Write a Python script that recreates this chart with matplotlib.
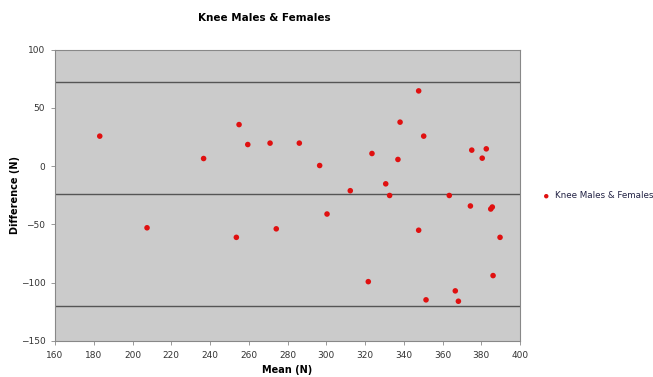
import matplotlib.pyplot as plt

mean_n = [183.1, 207.5, 236.7, 253.6, 255.0, 259.5, 271.0, 274.2, 286.1,
          296.6, 300.4, 312.4, 321.7, 323.6, 330.7, 332.7, 337.0, 338.1,
          347.7, 347.7, 350.3, 351.5, 363.5, 366.6, 368.2, 374.4, 375.1,
          380.5, 382.6, 384.9, 385.7, 386.1, 389.7]
diff_n = [25.7, -52.9, 6.5, -61.1, 35.6, 18.5, 19.7, -53.8, 19.7,
          0.5, -41.1, -21.1, -99.1, 10.8, -15.2, -25.2, 5.7, 37.7,
          64.5, -55.0, 25.7, -114.7, -25.2, -107.0, -115.9, -34.2, 13.7,
          6.8, 14.8, -36.8, -35.1, -93.9, -61.1]
ref_lines = [72.3, -23.6, -119.6]

fig = plt.figure(figsize=(6.53, 3.77), dpi=100)
ax = fig.add_axes([55/653, 1-341/377, 465/653, 291.5/377])
ax.set_facecolor("#cbcbcb")

for y in ref_lines:
    ax.axhline(y, color="#555555", lw=1.0, zorder=1)

ax.scatter(mean_n, diff_n, s=16, marker="o", color="#e01010",
           edgecolors="none", zorder=3, label="Knee Males & Females")

ax.set_xlim(160, 400)
ax.set_ylim(-150, 100)
ax.set_xticks(range(160, 401, 20))
ax.set_yticks(range(-150, 101, 50))
ax.tick_params(labelsize=6.5, labelcolor="#333333", length=3,
               color="#888888", width=0.6, pad=4)
for s in ax.spines.values():
    s.set_color("#888888")
    s.set_linewidth(0.8)

ax.set_xlabel("Mean (N)", fontsize=7, fontweight="bold", labelpad=4)
fig.text(15/653, 1-195/377, "Difference (N)", fontsize=7, fontweight="bold",
         rotation=90, ha="center", va="center")
fig.text(264/653, 1-18/377, "Knee Males & Females", fontsize=7.5,
         fontweight="bold", ha="center", va="center")

fig.legend(loc="center left", bbox_to_anchor=(534/653, 1-196/377),
           frameon=False, fontsize=6.3, handletextpad=0.0,
           markerscale=0.8, labelcolor="#222244", borderaxespad=0)

plt.savefig("out.png", dpi=100)
plt.close()
